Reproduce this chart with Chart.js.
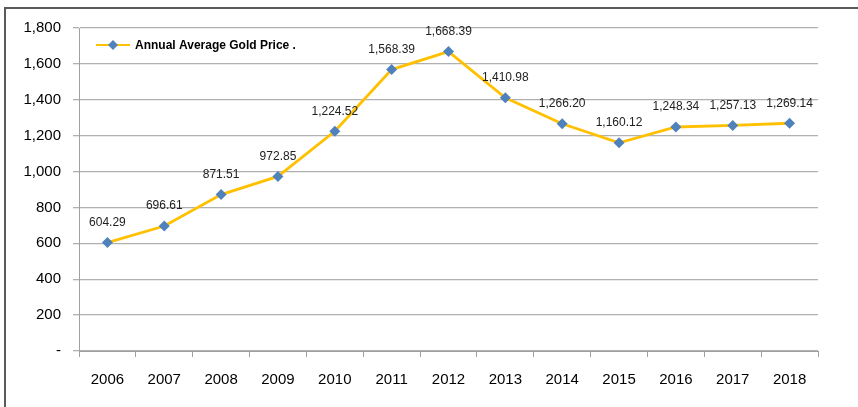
<!DOCTYPE html>
<html lang="en">
<head>
    <meta charset="UTF-8">
    <title>Annual Average Gold Price</title>
    <script src="https://cdn.jsdelivr.net/npm/chart.js"></script>
    <style>
        body { margin: 0; background: #fff; }
        .wrap { position: relative; width: 858px; height: 407px; }
        .frame { position: absolute; left: 4px; top: 7px; right: 0; bottom: 0;
                 border-top: 2px solid #5a5a5a; border-left: 2px solid #5a5a5a; }
        canvas { position: absolute; left: 0; top: 0; }
    </style>
</head>
<body>
    <div class="wrap">
        <div class="frame"></div>
        <canvas id="chart" width="858" height="407"></canvas>
    </div>

    <script>
        const years = ['2006', '2007', '2008', '2009', '2010', '2011', '2012', '2013', '2014', '2015', '2016', '2017', '2018'];
        const goldPrice = [604.29, 696.61, 871.51, 972.85, 1224.52, 1568.39, 1668.39, 1410.98, 1266.20, 1160.12, 1248.34, 1257.13, 1269.14];
        const seriesName = 'Annual Average Gold Price .';

        const fmt = (v, d) => v.toLocaleString('en-US', { minimumFractionDigits: d, maximumFractionDigits: d });

        // value labels above each point + legend inside plot
        const extras = {
            id: 'extras',
            afterDatasetsDraw(chart) {
                const ctx = chart.ctx;
                const meta = chart.getDatasetMeta(0);
                ctx.save();
                ctx.font = '12px "Liberation Sans", Arial, sans-serif';
                ctx.fillStyle = '#222';
                ctx.textAlign = 'center';
                ctx.textBaseline = 'middle';
                meta.data.forEach((pt, i) => {
                    ctx.fillText(fmt(goldPrice[i], 2), pt.x, pt.y - 20);
                });

                // legend
                const lx = 96, ly = 45;
                ctx.strokeStyle = '#FFC000';
                ctx.lineWidth = 2;
                ctx.beginPath();
                ctx.moveTo(lx, ly);
                ctx.lineTo(lx + 34, ly);
                ctx.stroke();
                ctx.fillStyle = '#4F81BD';
                ctx.beginPath();
                ctx.moveTo(lx + 17, ly - 5);
                ctx.lineTo(lx + 22, ly);
                ctx.lineTo(lx + 17, ly + 5);
                ctx.lineTo(lx + 12, ly);
                ctx.closePath();
                ctx.fill();
                ctx.font = 'bold 12px "Liberation Sans", Arial, sans-serif';
                ctx.fillStyle = '#000';
                ctx.textAlign = 'left';
                ctx.fillText(seriesName, lx + 39, ly + 1);
                ctx.restore();
            }
        };

        new Chart(document.getElementById('chart'), {
            type: 'line',
            data: {
                labels: years,
                datasets: [{
                    label: seriesName,
                    data: goldPrice,
                    borderColor: '#FFC000',
                    backgroundColor: '#4F81BD',
                    borderWidth: 2.8,
                    pointStyle: 'rectRot',
                    pointRadius: 5.5,
                    pointBorderWidth: 0,
                    pointBackgroundColor: '#4F81BD',
                    tension: 0
                }]
            },
            options: {
                responsive: false,
                animation: false,
                layout: { padding: { top: 28, right: 40, bottom: 0, left: 0 } },
                plugins: {
                    legend: { display: false },
                    tooltip: { enabled: false }
                },
                scales: {
                    x: {
                        offset: true,
                        grid: { drawOnChartArea: false, offset: true, tickLength: 6, color: '#a0a0a0' },
                        border: { color: '#a0a0a0' },
                        ticks: { color: '#000', padding: 14, font: { size: 15, family: '"Liberation Sans", Arial, sans-serif' } },
                        afterFit(scale) { scale.height = 56; }
                    },
                    y: {
                        min: 0,
                        max: 1800,
                        grid: { color: '#b0b0b0', tickLength: 6, lineWidth: 1.3 },
                        border: { color: '#a0a0a0' },
                        ticks: {
                            stepSize: 200,
                            color: '#000',
                            padding: 12,
                            font: { size: 15, family: '"Liberation Sans", Arial, sans-serif' },
                            callback: v => v === 0 ? '-' : fmt(v, 0)
                        },
                        afterFit(scale) { scale.width = 79; }
                    }
                }
            },
            plugins: [extras]
        });
    </script>
</body>
</html>
